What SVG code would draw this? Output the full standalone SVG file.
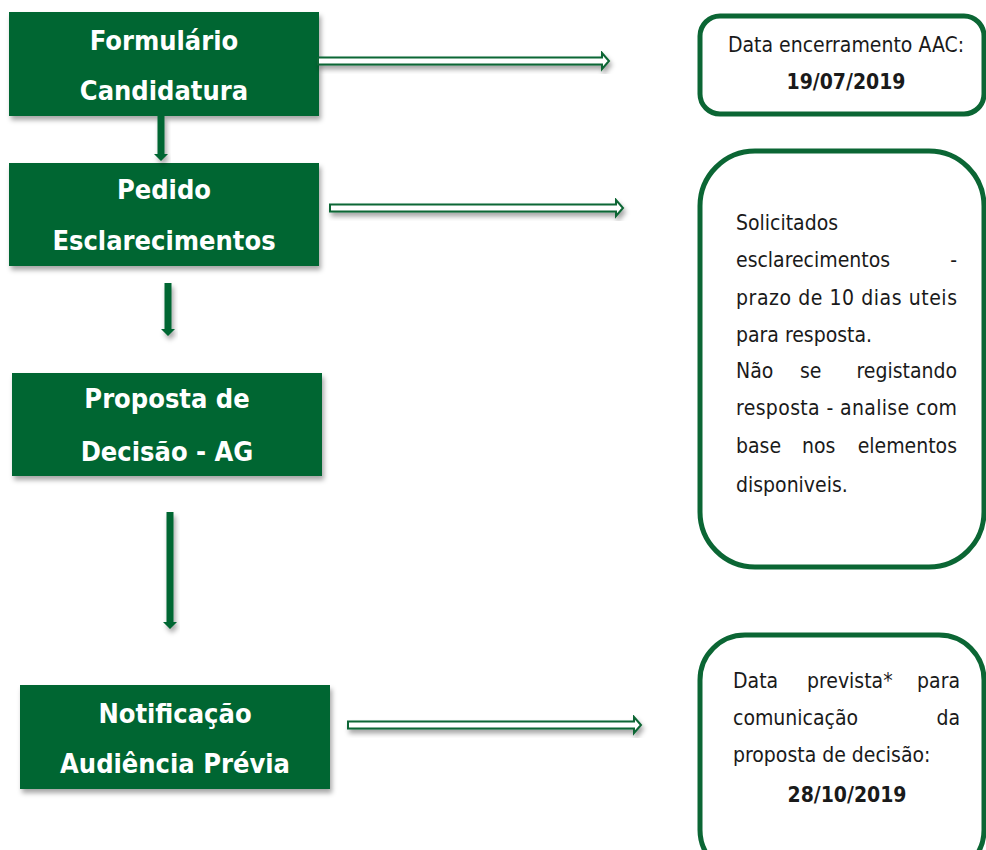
<svg xmlns="http://www.w3.org/2000/svg" width="986" height="850" viewBox="0 0 986 850">
<defs>
<style>
.box{fill:#006633;}
.bt{font-family:'DejaVu Sans Condensed','DejaVu Sans',sans-serif;font-stretch:condensed;font-weight:bold;font-size:27px;fill:#ffffff;text-anchor:middle;}
.rb{fill:#ffffff;stroke:#0b6634;stroke-width:5;}
.rt{font-family:'DejaVu Sans Condensed','DejaVu Sans',sans-serif;font-stretch:condensed;font-size:21px;fill:#1a1a1a;}
.rtb{font-weight:bold;text-anchor:middle;}
.ha{fill:#ffffff;stroke:#0b6634;stroke-width:2;stroke-linejoin:miter;}
.va{fill:#006633;}
</style>
<filter id="sh" x="-10%" y="-10%" width="130%" height="140%">
<feDropShadow dx="2" dy="4" stdDeviation="2.5" flood-color="#000" flood-opacity="0.35"/>
</filter>
</defs>

<g id="node-formulario">
<rect class="box" x="9" y="12" width="310" height="104" filter="url(#sh)"/>
<text class="bt" x="164" y="50">Formulário</text>
<text class="bt" x="164" y="100">Candidatura</text>
</g>

<g id="node-pedido">
<rect class="box" x="9" y="163" width="310" height="103" filter="url(#sh)"/>
<text class="bt" x="164" y="199">Pedido</text>
<text class="bt" x="164" y="250">Esclarecimentos</text>
</g>

<g id="node-proposta">
<rect class="box" x="12" y="373" width="310" height="103" filter="url(#sh)"/>
<text class="bt" x="167" y="408">Proposta de</text>
<text class="bt" x="167" y="461">Decisão - AG</text>
</g>

<g id="node-notificacao">
<rect class="box" x="20" y="685" width="310" height="104" filter="url(#sh)"/>
<text class="bt" x="175" y="723">Notificação</text>
<text class="bt" x="175" y="773">Audiência Prévia</text>
</g>

<g id="node-data-encerramento">
<rect class="rb" x="700" y="16" width="284" height="98" rx="20" ry="20"/>
<text class="rt" x="846" y="52" text-anchor="middle">Data encerramento AAC:</text>
<text class="rt rtb" x="846" y="89">19/07/2019</text>
</g>

<g id="node-esclarecimentos">
<rect class="rb" x="700" y="151" width="284" height="416" rx="55" ry="55"/>
<text class="rt" x="736" y="230">Solicitados</text>
<text class="rt" y="267"><tspan x="736">esclarecimentos</tspan><tspan x="957" text-anchor="end">-</tspan></text>
<text class="rt" x="736" y="305" textLength="221" lengthAdjust="spacing">prazo de 10 dias uteis</text>
<text class="rt" x="736" y="342">para resposta.</text>
<text class="rt" y="378"><tspan x="736">Não</tspan><tspan x="800">se</tspan><tspan x="957" text-anchor="end">registando</tspan></text>
<text class="rt" x="736" y="415" textLength="221" lengthAdjust="spacing">resposta - analise com</text>
<text class="rt" y="453"><tspan x="736">base</tspan><tspan x="802">nos</tspan><tspan x="957" text-anchor="end">elementos</tspan></text>
<text class="rt" x="736" y="492">disponiveis.</text>
</g>

<g id="node-data-prevista">
<rect class="rb" x="700" y="635" width="284" height="240" rx="45" ry="45"/>
<text class="rt" y="688"><tspan x="733">Data</tspan><tspan x="807">prevista*</tspan><tspan x="960" text-anchor="end">para</tspan></text>
<text class="rt" y="725"><tspan x="733">comunicação</tspan><tspan x="960" text-anchor="end">da</tspan></text>
<text class="rt" x="733" y="762">proposta de decisão:</text>
<text class="rt rtb" x="847" y="802">28/10/2019</text>
</g>

<g id="connectors">
<path class="ha" filter="url(#sh)" d="M318,57.5 H602 V53 L609,61 L602,69 V64.5 H318 Z"/>
<path class="ha" filter="url(#sh)" d="M330,204.5 H616 V200 L623,208 L616,216 V211.5 H330 Z"/>
<path class="ha" filter="url(#sh)" d="M348,721.5 H634 V717 L641,725 L634,733 V728.5 H348 Z"/>
<path class="va" filter="url(#sh)" d="M157.5,116 H164.5 V154 H168 L161,161 L154,154 H157.5 Z"/>
<path class="va" filter="url(#sh)" d="M164.5,283 H171.5 V329 H175 L168,336 L161,329 H164.5 Z"/>
<path class="va" filter="url(#sh)" d="M166.5,512 H173.5 V622 H177 L170,629 L163,622 H166.5 Z"/>
</g>
</svg>
